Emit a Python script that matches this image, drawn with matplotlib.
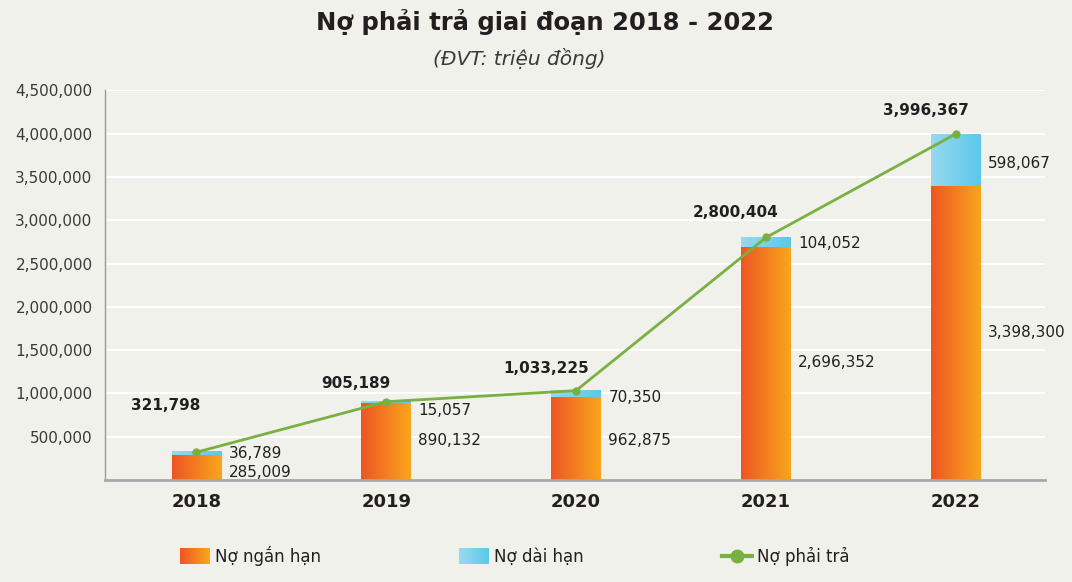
import numpy as np
import matplotlib.pyplot as plt
from matplotlib.colors import LinearSegmentedColormap, to_rgb
from matplotlib.legend_handler import HandlerBase
from matplotlib.patches import Rectangle
from matplotlib.lines import Line2D

years = ['2018', '2019', '2020', '2021', '2022']
short_term = [285009, 890132, 962875, 2696352, 3398300]
long_term = [36789, 15057, 70350, 104052, 598067]
total = [321798, 905189, 1033225, 2800404, 3996367]
yticks = [500000, 1000000, 1500000, 2000000, 2500000, 3000000, 3500000, 4000000, 4500000]

# where the value labels sit (data units)
total_label_y = [864000, 1117000, 1290000, 3087000, 4262000]
long_label_y = [311000, 806000, 956000, 2730000, 3652000]
short_label_y = [92000, 461000, 461000, 1359000, 1705000]

bg = '#f1f1ec'
orange = ('#ee5523', '#f9a61c')
blue = ('#97d9ef', '#5cc8ea')
green = '#79b042'
width = 0.26

cmap_o = LinearSegmentedColormap.from_list('o', orange)
cmap_b = LinearSegmentedColormap.from_list('b', blue)
grad = np.linspace(0, 1, 200).reshape(1, -1)


class GradHandler(HandlerBase):
    def __init__(self, colors):
        super().__init__()
        self.colors = colors

    def create_artists(self, legend, orig_handle, xdescent, ydescent, width, height, fontsize, trans):
        c1 = np.array(to_rgb(self.colors[0]))
        c2 = np.array(to_rgb(self.colors[1]))
        n = 30
        arts = []
        for k in range(n):
            t = k / (n - 1)
            r = Rectangle((-xdescent + k * width / n, -ydescent - height * 0.15), width / n * 1.1, height * 1.3,
                          facecolor=c1 * (1 - t) + c2 * t, edgecolor='none', transform=trans)
            arts.append(r)
        return arts


fig = plt.figure(figsize=(10.72, 5.82), dpi=100, facecolor=bg)
ax = fig.add_axes([0.098, 0.175, 0.877, 0.67])
ax.set_facecolor(bg)

x = np.arange(len(years))
for i in x:
    ax.imshow(grad, cmap=cmap_o, extent=[i - width / 2, i + width / 2, 0, short_term[i]],
              aspect='auto', zorder=2, interpolation='bilinear')
    ax.imshow(grad, cmap=cmap_b, extent=[i - width / 2, i + width / 2, short_term[i], short_term[i] + long_term[i]],
              aspect='auto', zorder=2, interpolation='bilinear')

ax.plot(x, total, color=green, lw=2, marker='o', ms=5, zorder=4)

for i in x:
    ax.text(i - 0.16, total_label_y[i], f'{total[i]:,}', ha='center', va='center',
            fontsize=11, fontweight='bold', color='#231f20', zorder=5)
    ax.text(i + width / 2 + 0.04, long_label_y[i], f'{long_term[i]:,}', ha='left', va='center',
            fontsize=11, color='#231f20', zorder=5)
    ax.text(i + width / 2 + 0.04, short_label_y[i], f'{short_term[i]:,}', ha='left', va='center',
            fontsize=11, color='#231f20', zorder=5)

ax.set_xlim(-0.48, 4.47)
ax.set_ylim(0, 4500000)
ax.set_yticks(yticks)
ax.set_yticklabels([f'{v:,}' for v in yticks], fontsize=11, color='#3a3a3a')
ax.set_xticks(x)
ax.set_xticklabels(years, fontsize=13, fontweight='bold', color='#231f20')
ax.tick_params(axis='y', length=0, pad=9)
ax.tick_params(axis='x', length=0, pad=9)
ax.grid(axis='y', color='white', lw=1.5, zorder=0)
ax.set_axisbelow(True)
for s in ['top', 'right']:
    ax.spines[s].set_visible(False)
ax.spines['left'].set_color('#9a9a9a')
ax.spines['left'].set_linewidth(1)
ax.spines['bottom'].set_color('#a8a8a8')
ax.spines['bottom'].set_linewidth(2)

fig.text(0.508, 0.963, 'Nợ phải trả giai đoạn 2018 - 2022', ha='center', va='center',
         fontsize=17.5, fontweight='heavy', color='#231f20')
fig.text(0.484, 0.9, '(ĐVT: triệu đồng)', ha='center', va='center',
         fontsize=14.5, style='italic', color='#3a3a3a')

h1 = Rectangle((0, 0), 1, 1)
h2 = Rectangle((0, 0), 1, 1)
h3 = Line2D([], [], color=green, lw=3, marker='o', ms=9)
leg = fig.legend([h1, h2, h3], ['Nợ ngắn hạn', 'Nợ dài hạn', 'Nợ phải trả'],
                 handler_map={h1: GradHandler(orange), h2: GradHandler(blue)},
                 loc='center left', bbox_to_anchor=(0.1535, 0.045), ncol=3, frameon=False,
                 fontsize=12, handlelength=1.8, handletextpad=0.3, columnspacing=8.3)
for t in leg.get_texts():
    t.set_color('#231f20')

plt.savefig('out.png', dpi=100, facecolor=bg)
